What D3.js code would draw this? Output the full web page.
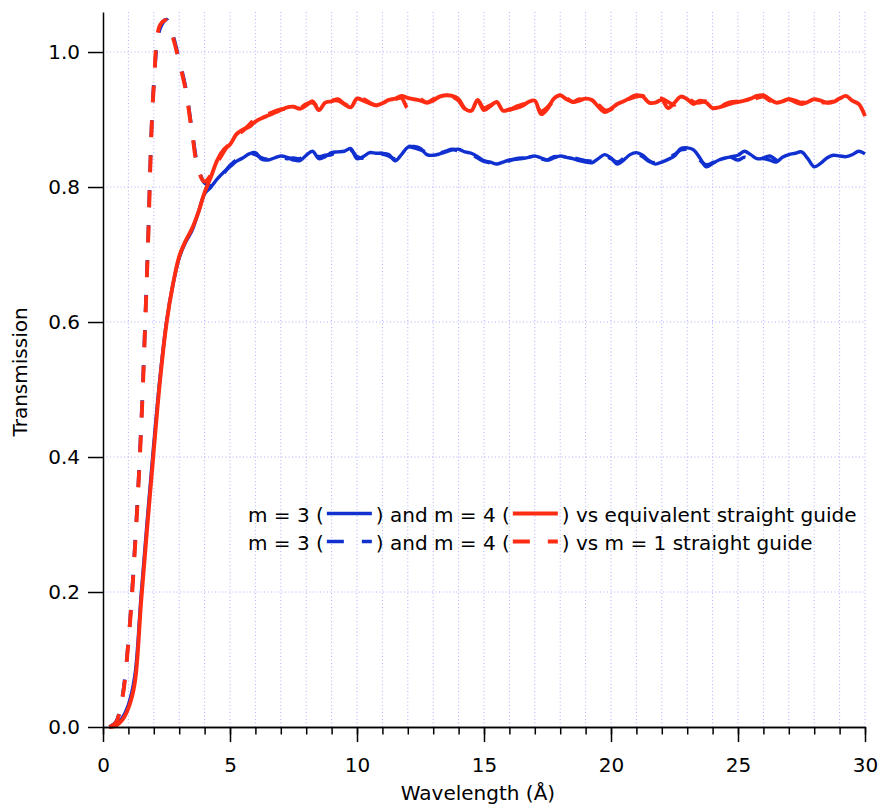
<!DOCTYPE html>
<html>
<head>
<meta charset="utf-8">
<script src="https://cdn.jsdelivr.net/npm/d3@7"></script>
<style>
body { margin: 0; background: #fff; }
svg { font-family: "DejaVu Sans", sans-serif; }
</style>
</head>
<body>
<svg></svg>
<script>
let width = 883,
    height = 806;

// sampling grid, every 0.25 A
let wavelengths = d3.range(0, 30.001, 0.25);

// one row per Angstrom: x.00, x.25, x.50, x.75
let redSolid = [
    null, 0, 0.002, 0.01,
    0.028, 0.065, 0.185, 0.30,
    0.41, 0.515, 0.598, 0.655,
    0.697, 0.72, 0.738, 0.762,
    0.792, 0.815, 0.84, 0.855,
    0.863, 0.878, 0.885, 0.889,
    0.897, 0.902, 0.906, 0.91,
    0.914, 0.918, 0.919, 0.916,
    0.921, 0.927, 0.914, 0.925,
    0.927, 0.93, 0.923, 0.918,
    0.931, 0.928, 0.924, 0.921,
    0.924, 0.929, 0.931, 0.935,
    0.932, 0.93, 0.928, 0.925,
    0.928, 0.934, 0.936, 0.935,
    0.93, 0.916, 0.913, 0.929,
    0.914, 0.92, 0.926, 0.913,
    0.915, 0.917, 0.92, 0.926,
    0.928, 0.908, 0.916, 0.931,
    0.936, 0.93, 0.926, 0.928,
    0.931, 0.929, 0.919, 0.911,
    0.916, 0.923, 0.927, 0.932,
    0.936, 0.934, 0.925, 0.925,
    0.929, 0.917, 0.925, 0.934,
    0.93, 0.923, 0.928, 0.925,
    0.917, 0.918, 0.921, 0.924,
    0.926, 0.928, 0.931, 0.935,
    0.936, 0.93, 0.925, 0.927,
    0.93, 0.926, 0.923, 0.926,
    0.93, 0.928, 0.925, 0.926,
    0.931, 0.935, 0.928, 0.923,
    0.905
];

let blueSolid = [
    null, 0, 0.003, 0.013,
    0.033, 0.075, 0.195, 0.31,
    0.42, 0.52, 0.60, 0.655,
    0.695, 0.718, 0.735, 0.762,
    0.79, 0.80, 0.812, 0.822,
    0.83, 0.838, 0.843, 0.849,
    0.851, 0.841, 0.84, 0.843,
    0.846, 0.844, 0.84, 0.839,
    0.847, 0.853, 0.842, 0.845,
    0.851, 0.852, 0.853, 0.857,
    0.842, 0.845, 0.851, 0.85,
    0.85, 0.848, 0.839, 0.848,
    0.859, 0.86, 0.857, 0.848,
    0.847, 0.849, 0.852, 0.855,
    0.856, 0.852, 0.85, 0.845,
    0.839, 0.837, 0.834, 0.837,
    0.84, 0.841, 0.842, 0.844,
    0.846, 0.843, 0.84, 0.843,
    0.846, 0.844, 0.842, 0.839,
    0.837, 0.836, 0.842, 0.848,
    0.843, 0.834, 0.84, 0.848,
    0.851, 0.847, 0.839, 0.834,
    0.837, 0.841, 0.846, 0.857,
    0.858, 0.855, 0.843, 0.83,
    0.835, 0.84, 0.843, 0.845,
    0.847, 0.853, 0.848, 0.842,
    0.842, 0.84, 0.837, 0.844,
    0.848, 0.85, 0.852, 0.842,
    0.83, 0.835, 0.843, 0.847,
    0.846, 0.845, 0.848, 0.853,
    0.849
];

let redDashed = [
    null, 0, 0.006, 0.04,
    0.125, 0.26, 0.44, 0.69,
    0.95, 1.04, 1.047, 1.022,
    0.985, 0.945, 0.882, 0.825,
    0.808, 0.818, 0.836, 0.852,
    0.866, 0.876, 0.883, 0.892,
    0.9, 0.901, 0.908, 0.912,
    0.915, 0.916, 0.92, 0.917,
    0.923, 0.925, 0.918, 0.924,
    0.928, 0.928, 0.923, 0.92,
    0.929, 0.93, 0.925, 0.921,
    0.925, 0.929, 0.93, 0.932,
    0.917, 0.928, 0.93, 0.925,
    0.93, 0.933, 0.936, 0.934,
    0.928, 0.916, 0.916, 0.927,
    0.917, 0.921, 0.923, 0.916,
    0.914, 0.919, 0.922, 0.925,
    0.925, 0.912, 0.918, 0.928,
    0.933, 0.931, 0.926, 0.93,
    0.928, 0.93, 0.922, 0.914,
    0.915, 0.924, 0.929, 0.931,
    0.934, 0.935, 0.927, 0.93,
    0.931, 0.926, 0.922, 0.931,
    0.932, 0.926, 0.925, 0.927,
    0.92, 0.917, 0.923, 0.926,
    0.927, 0.93, 0.929, 0.932,
    0.934, 0.928, 0.928, 0.926,
    0.93, 0.928, 0.925, 0.927,
    0.93, 0.926, 0.925, 0.927,
    null, null, null, null,
    null
];

let blueDashed = [
    null, 0, 0.007, 0.042,
    0.128, 0.265, 0.445, 0.695,
    0.952, 1.035, 1.048, 1.025,
    0.988, 0.948, 0.885, 0.828,
    0.806, 0.802, 0.81, 0.82,
    0.832, 0.84, 0.845, 0.85,
    0.848, 0.843, 0.841, 0.845,
    0.844, 0.842, 0.843, 0.842,
    0.85, 0.85, 0.845, 0.847,
    0.848, 0.854, 0.851, 0.855,
    0.845, 0.843, 0.848, 0.852,
    0.849, 0.846, 0.842, 0.85,
    0.86, 0.858, 0.855, 0.851,
    0.846, 0.85, 0.853, 0.856,
    0.853, 0.85, 0.848, 0.843,
    0.838, 0.836, 0.836, 0.838,
    0.839, 0.842, 0.843, 0.843,
    0.846, 0.842, 0.84, 0.845,
    0.844, 0.842, 0.843, 0.841,
    0.839, 0.838, 0.84, 0.846,
    0.842, 0.837, 0.842, 0.846,
    0.849, 0.845, 0.838, 0.836,
    0.839, 0.843, 0.848, 0.855,
    0.856, 0.853, 0.84, 0.833,
    0.836, 0.842, 0.848, 0.844,
    0.84, 0.844, 0.84, 0.838,
    0.843, 0.846, 0.84, 0.836,
    0.835, null, null, null,
    null, null, null, null,
    null, null, null, null,
    null
];

let xMajorTicks = [0, 5, 10, 15, 20, 25, 30];
let xMinorTicks = d3.range(0, 31);
let yTicks = [0, 0.2, 0.4, 0.6, 0.8, 1.0];

let red = "#ff2c14",
    blue = "#1030d0";

let svg = d3.select("svg")
    .attr("width", width)
    .attr("height", height);

let x = d3.scaleLinear().domain([0, 30]).range([103, 865]);
let y = d3.scaleLinear().domain([0, 1.0593]).range([727, 12]);

// dotted grid
let grid = svg.append("g")
    .attr("stroke", "#b0b0ff")
    .attr("stroke-width", 1)
    .attr("stroke-dasharray", "1,2.5");

grid.selectAll(".vgrid")
    .data(xMinorTicks.filter(d => d > 0))
    .enter()
    .append("line")
    .attr("x1", d => x(d)).attr("x2", d => x(d))
    .attr("y1", y(0)).attr("y2", y.range()[1]);

grid.selectAll(".hgrid")
    .data(yTicks.filter(d => d > 0))
    .enter()
    .append("line")
    .attr("x1", x(0)).attr("x2", x(30))
    .attr("y1", d => y(d)).attr("y2", d => y(d));

// curves
let line = d3.line()
    .defined(d => d[1] != null)
    .x(d => x(d[0]))
    .y(d => y(d[1]))
    .curve(d3.curveCatmullRom);

let series = [
    {values: blueSolid, color: blue, width: 3.4, dash: null},
    {values: blueDashed, color: blue, width: 3.6, dash: "17,18"},
    {values: redSolid, color: red, width: 3.9, dash: null},
    {values: redDashed, color: red, width: 3.9, dash: "17,18"}
];

svg.append("g")
    .selectAll("path")
    .data(series)
    .enter()
    .append("path")
    .attr("d", s => line(wavelengths.map((w, i) => [w, s.values[i]])))
    .attr("fill", "none")
    .attr("stroke", s => s.color)
    .attr("stroke-width", s => s.width)
    .attr("stroke-dasharray", s => s.dash)
    .attr("stroke-linejoin", "round");

// axes
let xAxisMinor = d3.axisBottom(x).tickValues(xMinorTicks).tickSize(7.5).tickSizeOuter(0).tickFormat("");
let xAxisMajor = d3.axisBottom(x).tickValues(xMajorTicks).tickSize(15).tickSizeOuter(0).tickPadding(16);
let yAxis = d3.axisLeft(y).tickValues(yTicks).tickSize(15).tickSizeOuter(0).tickPadding(8).tickFormat(d3.format(".1f"));

svg.append("g").attr("transform", "translate(0,727)").call(xAxisMinor);
svg.append("g").attr("transform", "translate(0,727)").call(xAxisMajor);
svg.append("g").attr("transform", "translate(103,0)").call(yAxis);

svg.selectAll(".domain, .tick line")
    .attr("stroke", "#000")
    .attr("stroke-width", 1.5);
svg.selectAll(".tick text")
    .attr("fill", "#000")
    .style("font-size", "20px")
    .style("font-family", "DejaVu Sans, sans-serif");

// axis titles
svg.append("text")
    .attr("x", 478)
    .attr("y", 800)
    .attr("text-anchor", "middle")
    .style("font-size", "20px")
    .text("Wavelength (Å)");

svg.append("text")
    .attr("transform", "translate(27,372) rotate(-90)")
    .attr("text-anchor", "middle")
    .style("font-size", "20px")
    .text("Transmission");

// legend, text pieces with sample lines between them
let legendRows = [
    {y: 522, dash: null, tail: ") vs equivalent straight guide"},
    {y: 550, dash: "17,18", tail: ") vs m = 1 straight guide"}
];

legendRows.forEach(row => {
    let g = svg.append("g");
    let cx = 248;
    let pieces = ["m = 3 (", blue, ") and m = 4 (", red, row.tail];
    pieces.forEach(p => {
        if (p == blue || p == red) {
            g.append("line")
                .attr("x1", cx + 3).attr("x2", cx + 48)
                .attr("y1", row.y - 8.5).attr("y2", row.y - 8.5)
                .attr("stroke", p)
                .attr("stroke-width", p == red ? 3.9 : 3.6)
                .attr("stroke-dasharray", row.dash);
            cx += 52;
        } else {
            let t = g.append("text")
                .attr("x", cx)
                .attr("y", row.y)
                .style("font-size", "20px")
                .text(p);
            cx += t.node().getComputedTextLength();
        }
    });
});
</script>
</body>
</html>
